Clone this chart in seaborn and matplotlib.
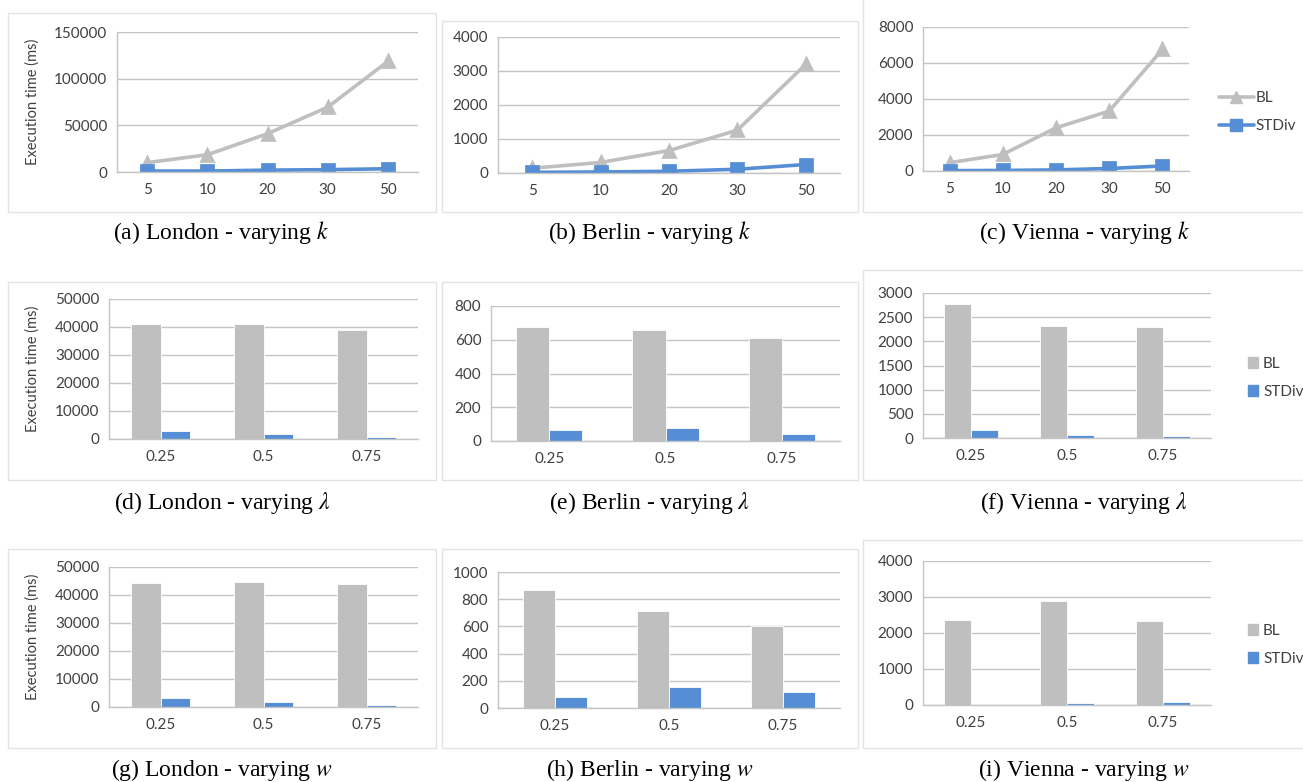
import numpy as np
import pandas as pd
import matplotlib
matplotlib.use("Agg")
import matplotlib.pyplot as plt
from matplotlib.patches import Rectangle
from matplotlib.lines import Line2D
from matplotlib.ticker import MultipleLocator, StrMethodFormatter
import seaborn as sns

# ---------------- data ----------------
methods = ["BL", "STDiv"]
k_values = ["5", "10", "20", "30", "50"]
frac_values = ["0.25", "0.5", "0.75"]

london_k_bl = [10000, 18500, 41000, 69500, 118500]
london_k_std = [1000, 1000, 2000, 2500, 3500]
berlin_k_bl = [140, 310, 660, 1260, 3200]
berlin_k_std = [20, 30, 50, 110, 250]
vienna_k_bl = [460, 920, 2400, 3330, 6750]
vienna_k_std = [20, 30, 60, 140, 280]

london_lam_bl = [41000, 41200, 38800]
london_lam_std = [2700, 1700, 700]
berlin_lam_bl = [675, 660, 612]
berlin_lam_std = [68, 78, 40]
vienna_lam_bl = [2770, 2310, 2300]
vienna_lam_std = [170, 60, 40]

london_w_bl = [44300, 44600, 44100]
london_w_std = [3200, 1700, 800]
berlin_w_bl = [865, 710, 605]
berlin_w_std = [80, 155, 118]
vienna_w_bl = [2350, 2880, 2330]
vienna_w_std = [30, 50, 80]

# ---------------- style ----------------
sns.set_style("white")
plt.rcParams["font.family"] = ["Lato", "DejaVu Sans"]
plt.rcParams["mathtext.fontset"] = "stix"

colors = {"BL": "#BFBFBF", "STDiv": "#558ED5"}
grid_c = "#C4C4C4"
text_c = "#404040"
tick_fs = 11

W, H = 1303, 782
fig = plt.figure(figsize=(W / 100, H / 100), dpi=100)


def px_axes(l, t, r, b):
    return fig.add_axes([l / W, 1 - b / H, (r - l) / W, (b - t) / H])


def long_df(cats, bl, std):
    return pd.DataFrame({
        "x": cats * 2,
        "y": bl + std,
        "method": ["BL"] * len(cats) + ["STDiv"] * len(cats),
    })


def style_axes(ax, n, ymax, step, ylabel=False):
    ax.set_xlim(-0.5, n - 0.5)
    ax.set_ylim(0, ymax)
    ax.yaxis.set_major_locator(MultipleLocator(step))
    ax.yaxis.set_major_formatter(StrMethodFormatter("{x:.0f}"))
    ax.set_xticks(np.arange(-0.5, n), minor=True)
    ax.tick_params(axis="x", which="major", length=0, labelsize=tick_fs,
                   labelcolor=text_c, pad=8)
    ax.tick_params(axis="x", which="minor", length=5, color=grid_c, width=1)
    ax.tick_params(axis="y", length=5, color=grid_c, width=1, labelsize=tick_fs,
                   labelcolor=text_c, pad=2)
    ax.grid(axis="y", color=grid_c, linewidth=1)
    ax.set_axisbelow(True)
    for s in ["top", "right"]:
        ax.spines[s].set_visible(False)
    for s in ["left", "bottom"]:
        ax.spines[s].set_color(grid_c)
        ax.spines[s].set_linewidth(1)
    ax.set_xlabel("")
    ax.set_ylabel("")
    if ylabel:
        l = ax.get_position().x0 * W
        w = ax.get_position().width * W
        ax.set_ylabel("Execution time (ms)", fontsize=10.5, color=text_c)
        ax.yaxis.set_label_coords((40 - l) / w, 0.5)


def line_panel(rect, bl, std, ymax, step, ylabel=False):
    ax = px_axes(*rect)
    df = long_df(k_values, bl, std)
    sns.pointplot(data=df, x="x", y="y", hue="method", order=k_values,
                  hue_order=methods, palette=colors, markers=["^", "s"],
                  linestyles=["-", "-"], errorbar=None, legend=False,
                  markersize=9, linewidth=2.6, ax=ax)
    style_axes(ax, len(k_values), ymax, step, ylabel)
    return ax


def bar_panel(rect, bl, std, ymax, step, ylabel=False):
    ax = px_axes(*rect)
    df = long_df(frac_values, bl, std)
    sns.barplot(data=df, x="x", y="y", hue="method", order=frac_values,
                hue_order=methods, palette=colors, saturation=1, width=0.57,
                edgecolor="white", linewidth=0.6, legend=False, ax=ax)
    style_axes(ax, len(frac_values), ymax, step, ylabel)
    return ax


# chart-area frames (light gray, like the spreadsheet export)
frames = [(8, 13, 436, 212), (442, 21, 858, 212), (863, -5, 1310, 212),
          (8, 282, 436, 480), (442, 282, 858, 480), (863, 270, 1310, 480),
          (8, 549, 436, 748), (442, 549, 858, 748), (863, 540, 1310, 748)]
for l, t, r, b in frames:
    fig.patches.append(Rectangle((l / W, 1 - b / H), (r - l) / W, (b - t) / H,
                                 transform=fig.transFigure, fill=False,
                                 edgecolor="#E3E3E3", linewidth=1))

# row 1: varying k
line_panel((117, 32, 418, 172), london_k_bl, london_k_std, 150000, 50000, True)
line_panel((498, 37, 840, 173), berlin_k_bl, berlin_k_std, 4000, 1000)
ax_c = line_panel((923, 27, 1189, 171), vienna_k_bl, vienna_k_std, 8000, 2000)

# row 2: varying lambda
bar_panel((109, 299, 418, 439), london_lam_bl, london_lam_std, 50000, 10000, True)
bar_panel((491, 306, 840, 441), berlin_lam_bl, berlin_lam_std, 800, 200)
ax_f = bar_panel((923, 293, 1211, 438), vienna_lam_bl, vienna_lam_std, 3000, 500)

# row 3: varying w
bar_panel((109, 567, 418, 707), london_w_bl, london_w_std, 50000, 10000, True)
bar_panel((498, 572, 840, 708), berlin_w_bl, berlin_w_std, 1000, 200)
ax_i = bar_panel((923, 561, 1211, 705), vienna_w_bl, vienna_w_std, 4000, 1000)

# legends
line_handles = [Line2D([], [], color=colors["BL"], marker="^", markersize=8, lw=2.6),
                Line2D([], [], color=colors["STDiv"], marker="s", markersize=8, lw=2.6)]
ax_c.legend(line_handles, methods, loc="center left", frameon=False,
            bbox_to_anchor=(1205 / W, 1 - 112 / H), bbox_transform=fig.transFigure,
            fontsize=tick_fs, handlelength=2.3, handletextpad=0.1, labelspacing=0.9,
            labelcolor=text_c)
bar_handles = [Rectangle((0, 0), 1, 1, color=colors[m]) for m in methods]
for ax, yc in [(ax_f, 378), (ax_i, 645)]:
    ax.legend(bar_handles, methods, loc="center left", frameon=False,
              bbox_to_anchor=(1234 / W, 1 - yc / H), bbox_transform=fig.transFigure,
              fontsize=tick_fs, handlelength=0.7, handleheight=0.7,
              handletextpad=0.3, labelspacing=0.9, labelcolor=text_c)

# captions
captions = [
    (221, 233, r"(a) London - varying $k$"),
    (650, 233, r"(b) Berlin - varying $k$"),
    (1084, 233, r"(c) Vienna - varying $k$"),
    (222, 503, r"(d) London - varying $\lambda$"),
    (650, 503, r"(e) Berlin - varying $\lambda$"),
    (1084, 503, r"(f) Vienna - varying $\lambda$"),
    (222, 770, r"(g) London - varying $w$"),
    (650, 770, r"(h) Berlin - varying $w$"),
    (1084, 770, r"(i) Vienna - varying $w$"),
]
for x, y, s in captions:
    fig.text(x / W, 1 - y / H, s, ha="center", va="center", fontsize=17,
             family=["Liberation Serif", "DejaVu Serif"], color="black")

fig.savefig("out.png", dpi=100, facecolor="white")
